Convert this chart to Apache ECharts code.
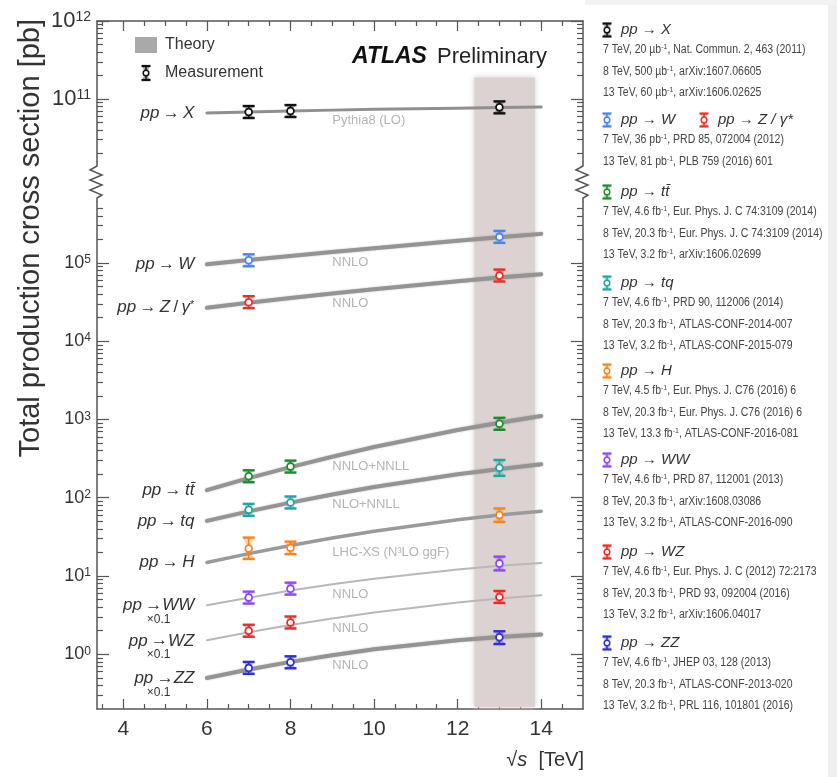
<!DOCTYPE html>
<html>
<head>
<meta charset="utf-8">
<script src="https://cdn.jsdelivr.net/npm/echarts@6.0.0/dist/echarts.min.js"></script>
<style>html,body{margin:0;padding:0;background:#fff;}#chart{width:837px;height:777px;}</style>
</head>
<body>
<div id="chart"></div>
<script>
// ================= DATA =================
// theory curves, sampled at these energies [TeV]
const thEnergies = [6, 7, 8, 9, 10, 12, 13, 14];
const thX  = [6.61e10, 6.81e10, 7.02e10, 7.19e10, 7.36e10, 7.62e10, 7.76e10, 7.90e10];
const thW  = [9.62e4, 1.089e5, 1.225e5, 1.375e5, 1.542e5, 1.917e5, 2.125e5, 2.349e5];
const thZ  = [2.68e4, 3.10e4, 3.56e4, 4.06e4, 4.61e4, 5.82e4, 6.49e4, 7.17e4];
const thTT = [125, 178, 246, 334, 444, 732, 910, 1105];
const thTQ = [50.7, 67.0, 86.6, 110, 137, 199, 232, 267];
const thH  = [14.9, 19.3, 24.6, 30.6, 37.4, 52.3, 60.1, 67.4];
const thWW = [4.23, 5.29, 6.51, 7.83, 9.24, 12.1, 13.5, 14.7];
const thWZ = [1.51, 1.91, 2.36, 2.87, 3.42, 4.58, 5.16, 5.68];
const thZZ = [0.498, 0.639, 0.80, 0.974, 1.16, 1.51, 1.66, 1.79];

// measurements
const measE3 = [7, 8, 13];
const measE2 = [7, 13];
const mX  = [6.8e10, 7.0e10, 7.8e10]; const mXlo = [0.5e10, 0.4e10, 0.45e10]; const mXhi = [0.5e10, 0.4e10, 0.45e10];
const mW  = [1.08e5, 2.15e5];         const mWlo = [0.08e5, 0.18e5];          const mWhi = [0.08e5, 0.18e5];
const mZ  = [3.15e4, 6.9e4];          const mZlo = [0.25e4, 0.55e4];          const mZhi = [0.25e4, 0.55e4];
const mTT = [188, 250, 880];          const mTTlo = [16, 20, 60];             const mTThi = [16, 20, 60];
const mTQ = [70, 87, 242];            const mTQlo = [8, 10, 52];              const mTQhi = [9, 12, 62];
const mH  = [22.5, 23, 60];           const mHlo = [6, 4, 11];                const mHhi = [8.5, 4.5, 13];
const mWW = [5.3, 6.9, 14.5];         const mWWlo = [0.7, 0.8, 2.7];          const mWWhi = [0.7, 0.8, 3.2];
const mWZ = [2.0, 2.55, 5.4];         const mWZlo = [0.25, 0.3, 0.6];         const mWZhi = [0.25, 0.3, 0.6];
const mZZ = [0.67, 0.79, 1.65];       const mZZlo = [0.09, 0.09, 0.3];        const mZZhi = [0.09, 0.09, 0.3];

// 13 TeV (Run-2) highlighted energy range [TeV]
const run2Band = [12.4, 13.85];

// tick labels
const xTickLabels = [4, 6, 8, 10, 12, 14];
const xMinorTicks = [3.5, 4.5, 5, 5.5, 6.5, 7, 7.5, 8.5, 9, 9.5, 10.5, 11, 11.5, 12.5, 13, 13.5, 14.5];
const yTopLabels = [1e11, 1e12];
const yBottomLabels = [1, 10, 100, 1000, 1e4, 1e5];

// text
const processNames = {
  X: '{i|pp} {a|→} {i|X}',
  W: '{i|pp} {a|→} {i|W}',
  Z: '{i|pp} {a|→} {i|Z} {a|/} {i|γ}{s|*}',
  TT: '{i|pp} {a|→} {i|tt̄}',
  TQ: '{i|pp} {a|→} {i|tq}',
  H: '{i|pp} {a|→} {i|H}',
  WW: '{i|pp} {a|→}{i|WW}\n{x|×0.1}',
  WZ: '{i|pp} {a|→}{i|WZ}\n{x|×0.1}',
  ZZ: '{i|pp} {a|→}{i|ZZ}\n{x|×0.1}'
};
const theoryNames = {
  X: 'Pythia8 (LO)', W: 'NNLO', Z: 'NNLO', TT: 'NNLO+NNLL', TQ: 'NLO+NNLL',
  H: 'LHC-XS (N³LO ggF)', WW: 'NNLO', WZ: 'NNLO', ZZ: 'NNLO'
};
const legendHeads = [
  ['pp → X'], ['pp → W', 'pp → Z / γ*'], ['pp → tt̄'], ['pp → tq'], ['pp → H'],
  ['pp → WW'], ['pp → WZ'], ['pp → ZZ']
];
const legendLines = [
  ['7 TeV, 20 µb^-1, Nat. Commun. 2, 463 (2011)', '8 TeV, 500 µb^-1, arXiv:1607.06605', '13 TeV, 60 µb^-1, arXiv:1606.02625'],
  ['7 TeV, 36 pb^-1, PRD 85, 072004 (2012)', '13 TeV, 81 pb^-1, PLB 759 (2016) 601'],
  ['7 TeV, 4.6 fb^-1, Eur. Phys. J. C 74:3109 (2014)', '8 TeV, 20.3 fb^-1, Eur. Phys. J. C 74:3109 (2014)', '13 TeV, 3.2 fb^-1, arXiv:1606.02699'],
  ['7 TeV, 4.6 fb^-1, PRD 90, 112006 (2014)', '8 TeV, 20.3 fb^-1, ATLAS-CONF-2014-007', '13 TeV, 3.2 fb^-1, ATLAS-CONF-2015-079'],
  ['7 TeV, 4.5 fb^-1, Eur. Phys. J. C76 (2016) 6', '8 TeV, 20.3 fb^-1, Eur. Phys. J. C76 (2016) 6', '13 TeV, 13.3 fb^-1, ATLAS-CONF-2016-081'],
  ['7 TeV, 4.6 fb^-1, PRD 87, 112001 (2013)', '8 TeV, 20.3 fb^-1, arXiv:1608.03086', '13 TeV, 3.2 fb^-1, ATLAS-CONF-2016-090'],
  ['7 TeV, 4.6 fb^-1, Eur. Phys. J. C (2012) 72:2173', '8 TeV, 20.3 fb^-1, PRD 93, 092004 (2016)', '13 TeV, 3.2 fb^-1, arXiv:1606.04017'],
  ['7 TeV, 4.6 fb^-1, JHEP 03, 128 (2013)', '8 TeV, 20.3 fb^-1, ATLAS-CONF-2013-020', '13 TeV, 3.2 fb^-1, PRL 116, 101801 (2016)']
];

// ================= STYLE / LAYOUT =================
const FONT = '"Liberation Sans", Arial, Helvetica, sans-serif';
const AX = '#555';
const TXT = '#333';
const COL = {
  X: '#111111', W: '#4a86e8', Z: '#e8302a', TT: '#1e8c2d', TQ: '#20a5a5',
  H: '#f7851f', WW: '#8d4cf2', WZ: '#f02828', ZZ: '#2f2fd2'
};
const legendColors = [[COL.X], [COL.W, COL.Z], [COL.TT], [COL.TQ], [COL.H], [COL.WW], [COL.WZ], [COL.ZZ]];
const legendHeadY = [30, 120, 192, 283, 371, 460, 552, 643];

const xMin = 3.37, xMax = 15;
const yAmin = 1.6e10, yAmax = 1e12;
const yBmin = 0.2, yBmax = 6e5;

function minorLog(lo, hi) {
  const out = [];
  for (let d = Math.floor(Math.log10(lo)) - 1; d <= Math.ceil(Math.log10(hi)); d++) {
    for (let k = 2; k <= 9; k++) {
      const v = k * Math.pow(10, d);
      if (v > lo * 1.01 && v < hi * 0.99) out.push(v);
    }
  }
  return out;
}

const labelRich = {
  i: { fontStyle: 'italic', fontSize: 17, color: TXT, fontFamily: FONT },
  a: { fontSize: 17, color: TXT, fontFamily: FONT },
  s: { fontSize: 11, color: TXT, fontFamily: FONT, verticalAlign: 'top' },
  x: { fontSize: 12, color: TXT, fontFamily: FONT, padding: [0, 24, 0, 0], lineHeight: 11 }
};

function theorySeries(key, vals, grid, lineStyle, thOffset) {
  const multi = processNames[key].indexOf('\n') >= 0;
  return {
    type: 'line',
    xAxisIndex: grid === 0 ? 0 : 2,
    yAxisIndex: grid === 0 ? 0 : 4,
    data: thEnergies.map((e, i) => {
      const item = { value: [e, vals[i]] };
      if (i === 0) {
        item.label = {
          show: true, position: 'left', distance: 12,
          offset: multi ? [0, 6] : [0, 0],
          formatter: () => processNames[key], rich: labelRich
        };
      } else if (e === 9) {
        item.label = {
          show: true, position: 'bottom', distance: 3 + (thOffset || 0), align: 'left',
          formatter: () => theoryNames[key], color: '#b4b4b4', fontSize: 13, fontFamily: FONT
        };
      }
      return item;
    }),
    smooth: false,
    symbol: 'circle', symbolSize: 1, showSymbol: true, showAllSymbol: true,
    itemStyle: { color: 'rgba(0,0,0,0)' },
    label: { show: false },
    lineStyle: Object.assign({ cap: 'round', join: 'round' }, lineStyle),
    z: 3, silent: true, animation: false,
    emphasis: { disabled: true }
  };
}

function renderMeas(params, api) {
  const e = api.value(0), v = api.value(1), lo = api.value(2), hi = api.value(3);
  const c = api.coord([e, v]);
  let yl = api.coord([e, lo])[1], yh = api.coord([e, hi])[1];
  const minHalf = 6;
  yl = Math.max(yl, c[1] + minHalf);
  yh = Math.min(yh, c[1] - minHalf);
  const color = api.visual('color');
  const w = 6;
  return {
    type: 'group',
    children: [
      { type: 'polygon', shape: { points: [[c[0] - w, yh], [c[0] + w, yh], [c[0], c[1]]] }, style: { fill: color, opacity: 0.35 } },
      { type: 'polygon', shape: { points: [[c[0] - w, yl], [c[0] + w, yl], [c[0], c[1]]] }, style: { fill: color, opacity: 0.35 } },
      { type: 'line', shape: { x1: c[0], y1: yl, x2: c[0], y2: yh }, style: { stroke: color, lineWidth: 1.6 } },
      { type: 'line', shape: { x1: c[0] - w, y1: yl, x2: c[0] + w, y2: yl }, style: { stroke: color, lineWidth: 2.4 } },
      { type: 'line', shape: { x1: c[0] - w, y1: yh, x2: c[0] + w, y2: yh }, style: { stroke: color, lineWidth: 2.4 } },
      { type: 'circle', shape: { cx: c[0], cy: c[1], r: 3.4 }, style: { fill: '#fff', stroke: color, lineWidth: 1.8 } }
    ]
  };
}

function measSeries(E, vals, lo, hi, color, grid) {
  return {
    type: 'custom',
    xAxisIndex: grid === 0 ? 0 : 2,
    yAxisIndex: grid === 0 ? 0 : 4,
    data: E.map((e, i) => [e, vals[i], vals[i] - lo[i], vals[i] + hi[i]]),
    encode: { x: 0, y: 1 },
    renderItem: renderMeas,
    itemStyle: { color: color },
    z: 6, silent: true, animation: false, clip: false
  };
}

const thick = { color: '#949494', width: 4, shadowColor: 'rgba(0,0,0,0.25)', shadowBlur: 2 };
const thin = { color: '#b8b8b8', width: 2 };

function xAxisDef(grid, position, values, len, withLine, withLabels) {
  return {
    gridIndex: grid, type: 'value', position: position, min: xMin, max: xMax,
    axisLine: { show: withLine, onZero: false, lineStyle: { color: AX, width: 1.5 } },
    axisTick: { show: true, inside: true, length: len, customValues: values, lineStyle: { color: AX, width: 1.2 } },
    axisLabel: withLabels ? {
      show: true, customValues: xTickLabels, fontSize: 21, color: TXT, fontFamily: FONT, margin: 10
    } : { show: false },
    splitLine: { show: false }
  };
}

function yAxisDef(grid, position, min, max, values, len, withLine, labels, big) {
  return {
    gridIndex: grid, type: 'log', logBase: 10, position: position, min: min, max: max,
    axisLine: { show: withLine, onZero: false, lineStyle: { color: AX, width: 1.5 } },
    axisTick: { show: true, inside: true, length: len, customValues: values, lineStyle: { color: AX, width: 1.2 } },
    axisLabel: labels ? {
      show: true, customValues: labels, margin: 6,
      formatter: (v) => '{b|10}{s|' + Math.round(Math.log10(v)) + '}',
      rich: {
        b: { fontSize: big ? 22 : 18, color: TXT, fontFamily: FONT },
        s: { fontSize: big ? 14 : 12, color: TXT, fontFamily: FONT, verticalAlign: 'top' }
      }
    } : { show: false },
    splitLine: { show: false }, minorTick: { show: false }
  };
}

// ===== graphics (decorations & legends) =====
function errGlyph(cx, cy, color, h) {
  const w = 4.5;
  return {
    type: 'group', silent: true, children: [
      { type: 'polygon', shape: { points: [[cx - w, cy - h], [cx + w, cy - h], [cx, cy]] }, style: { fill: color, opacity: 0.35 } },
      { type: 'polygon', shape: { points: [[cx - w, cy + h], [cx + w, cy + h], [cx, cy]] }, style: { fill: color, opacity: 0.35 } },
      { type: 'line', shape: { x1: cx, y1: cy - h, x2: cx, y2: cy + h }, style: { stroke: color, lineWidth: 1.5 } },
      { type: 'line', shape: { x1: cx - w, y1: cy - h, x2: cx + w, y2: cy - h }, style: { stroke: color, lineWidth: 2.2 } },
      { type: 'line', shape: { x1: cx - w, y1: cy + h, x2: cx + w, y2: cy + h }, style: { stroke: color, lineWidth: 2.2 } },
      { type: 'circle', shape: { cx: cx, cy: cy, r: 2.8 }, style: { fill: '#fff', stroke: color, lineWidth: 1.5 } }
    ]
  };
}

function textEl(x, y, text, opts) {
  const st = Object.assign({
    text: text, fontFamily: FONT, fontSize: 15, fill: TXT,
    align: 'left', verticalAlign: 'middle', textAlign: 'left', textVerticalAlign: 'middle'
  }, opts.style || {});
  const el = { type: 'text', x: x, y: y, silent: true, style: st };
  if (opts.rotation != null) el.rotation = opts.rotation;
  if (opts.scaleX != null) el.scaleX = opts.scaleX;
  return el;
}

const graphics = [];
// light grey borders at right/top-right
graphics.push({ type: 'rect', shape: { x: 828, y: 0, width: 9, height: 777 }, style: { fill: '#efefef' }, silent: true, z: -10 });
graphics.push({ type: 'rect', shape: { x: 585, y: 0, width: 252, height: 5 }, style: { fill: '#f2f2f2' }, silent: true, z: -10 });

// axis break zigzags
function zigzag(x) {
  return {
    type: 'polyline', silent: true,
    shape: { points: [[x, 161], [x, 166], [x - 7, 170], [x + 5, 175], [x - 7, 180], [x + 5, 185], [x - 7, 190], [x + 5, 195], [x, 198], [x, 202]] },
    style: { stroke: AX, lineWidth: 1.5, fill: null }
  };
}
graphics.push(zigzag(97));
graphics.push(zigzag(583));

// y title
graphics.push(textEl(31, 19, 'Total production cross section [pb]', {
  rotation: Math.PI / 2,
  style: { fontSize: 29, fill: TXT, align: 'right', textAlign: 'right' }
}));
// x title
graphics.push(textEl(584, 760, '{r|√}{s|s}  [TeV]', {
  style: {
    fontSize: 20, fill: TXT, align: 'right', textAlign: 'right',
    rich: {
      r: { fontSize: 20, fill: TXT, color: TXT, fontFamily: FONT },
      s: { fontSize: 20, fill: TXT, color: TXT, fontFamily: FONT, fontStyle: 'italic' }
    }
  }
}));
// ATLAS Preliminary
graphics.push(textEl(352, 57, 'ATLAS', { style: { fontSize: 23, fontWeight: 'bold', fontStyle: 'italic', fill: '#111' } }));
graphics.push(textEl(437, 57, 'Preliminary', { style: { fontSize: 22, fill: '#222' } }));
// inner legend
graphics.push({ type: 'rect', silent: true, shape: { x: 135, y: 37, width: 22, height: 16 }, style: { fill: '#a9a9a9' } });
graphics.push(textEl(165, 45, 'Theory', { style: { fontSize: 16 } }));
graphics.push(errGlyph(146, 73, '#111', 7));
graphics.push(textEl(165, 73, 'Measurement', { style: { fontSize: 16 } }));

// right-hand legend
const headRich = {
  i: { fontStyle: 'italic', fontSize: 15, fill: TXT, color: TXT, fontFamily: FONT }
};
function headText(t) {
  const parts = t.split(' → ');
  return '{i|' + parts[0] + '} → {i|' + parts[1] + '}';
}
function lineText(t) {
  const parts = t.split('^-1');
  return parts.map(p => '{t|' + p + '}').join('{s|-1}');
}
const lineRich = {
  t: { fontSize: 12, fill: '#444', color: '#444', fontFamily: FONT, lineHeight: 14 },
  s: { fontSize: 8, fill: '#444', color: '#444', fontFamily: FONT, verticalAlign: 'top', lineHeight: 8 }
};
const headX = [621, 718], symX = [607, 704];
legendHeads.forEach((heads, k) => {
  const y = legendHeadY[k];
  heads.forEach((h, j) => {
    graphics.push(errGlyph(symX[j], y, legendColors[k][j], 6.5));
    graphics.push(textEl(headX[j], y, headText(h), { style: { fontSize: 15, rich: headRich } }));
  });
  legendLines[k].forEach((l, j) => {
    graphics.push(textEl(603, y + 20 + j * 21.5, lineText(l), { scaleX: 0.875, style: { fontSize: 12, fill: '#444', rich: lineRich } }));
  });
});

const option = {
  backgroundColor: '#ffffff',
  animation: false,
  grid: [
    { left: 97, right: 254, top: 21, height: 140 },
    { left: 97, right: 254, top: 202, height: 507 },
    { left: 97, right: 254, top: 21, height: 688 }
  ],
  xAxis: [
    xAxisDef(0, 'top', xTickLabels, 10, true, false),
    xAxisDef(0, 'top', xMinorTicks, 5, false, false),
    xAxisDef(1, 'bottom', xTickLabels, 10, true, true),
    xAxisDef(1, 'bottom', xMinorTicks, 5, false, false),
    { gridIndex: 2, type: 'value', min: xMin, max: xMax, show: false }
  ],
  yAxis: [
    yAxisDef(0, 'left', yAmin, yAmax, yTopLabels, 12, true, yTopLabels, true),
    yAxisDef(0, 'left', yAmin, yAmax, minorLog(yAmin, yAmax), 6, false, null),
    yAxisDef(0, 'right', yAmin, yAmax, yTopLabels, 12, true, null),
    yAxisDef(0, 'right', yAmin, yAmax, minorLog(yAmin, yAmax), 6, false, null),
    yAxisDef(1, 'left', yBmin, yBmax, yBottomLabels, 12, true, yBottomLabels, false),
    yAxisDef(1, 'left', yBmin, yBmax, minorLog(yBmin, yBmax), 6, false, null),
    yAxisDef(1, 'right', yBmin, yBmax, yBottomLabels, 12, true, null),
    yAxisDef(1, 'right', yBmin, yBmax, minorLog(yBmin, yBmax), 6, false, null),
    { gridIndex: 2, type: 'value', min: 0, max: 1, show: false }
  ],
  series: [
    {
      type: 'line', xAxisIndex: 4, yAxisIndex: 8, data: [[run2Band[0], 0]],
      symbol: 'none', lineStyle: { opacity: 0 }, silent: true, z: 0,
      markArea: {
        silent: true,
        itemStyle: { color: '#ddd2d2', shadowBlur: 6, shadowColor: '#ddd2d2' },
        data: [[{ xAxis: run2Band[0], yAxis: 0.003 }, { xAxis: run2Band[1], yAxis: 0.918 }]]
      }
    },
    theorySeries('X', thX, 0, { color: '#8f8f8f', width: 3 }),
    theorySeries('W', thW, 1, thick),
    theorySeries('Z', thZ, 1, thick),
    theorySeries('TT', thTT, 1, thick),
    theorySeries('TQ', thTQ, 1, thick),
    theorySeries('H', thH, 1, { color: '#9a9a9a', width: 3.5 }, 4),
    theorySeries('WW', thWW, 1, thin),
    theorySeries('WZ', thWZ, 1, thin),
    theorySeries('ZZ', thZZ, 1, thick),
    measSeries(measE3, mX, mXlo, mXhi, COL.X, 0),
    measSeries(measE2, mW, mWlo, mWhi, COL.W, 1),
    measSeries(measE2, mZ, mZlo, mZhi, COL.Z, 1),
    measSeries(measE3, mTT, mTTlo, mTThi, COL.TT, 1),
    measSeries(measE3, mTQ, mTQlo, mTQhi, COL.TQ, 1),
    measSeries(measE3, mH, mHlo, mHhi, COL.H, 1),
    measSeries(measE3, mWW, mWWlo, mWWhi, COL.WW, 1),
    measSeries(measE3, mWZ, mWZlo, mWZhi, COL.WZ, 1),
    measSeries(measE3, mZZ, mZZlo, mZZhi, COL.ZZ, 1)
  ],
  graphic: { elements: graphics }
};

const chart = echarts.init(document.getElementById('chart'), null, { renderer: 'canvas' });
chart.setOption(option);
</script>
</body>
</html>
